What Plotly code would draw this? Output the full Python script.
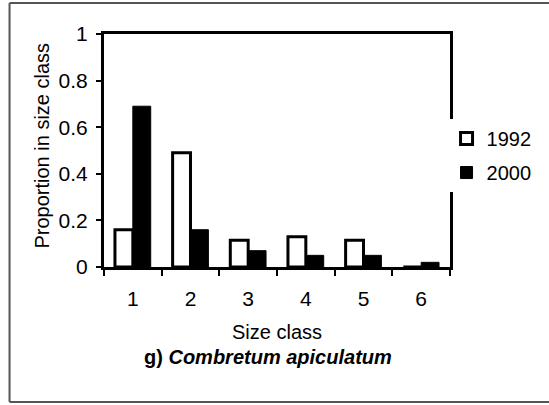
import plotly.graph_objects as go

# Size-class distribution of Combretum apiculatum in two survey years
size_classes = ["1", "2", "3", "4", "5", "6"]
prop_1992 = [0.16, 0.49, 0.115, 0.13, 0.115, 0.0]
prop_2000 = [0.69, 0.16, 0.07, 0.05, 0.05, 0.02]
y_ticks = [0, 0.2, 0.4, 0.6, 0.8, 1]
y_tick_text = ["0", "0.2", "0.4", "0.6", "0.8", "1"]

FONT = "Arial, 'Liberation Sans', sans-serif"

fig = go.Figure()
fig.add_trace(go.Bar(
    x=size_classes, y=prop_1992, name="1992", legendgroup="a",
    marker=dict(color="white", line=dict(color="black", width=3)),
))
fig.add_trace(go.Bar(
    x=size_classes, y=prop_2000, name="2000", legendgroup="b",
    marker=dict(color="black", line=dict(color="black", width=1)),
))

# Outer panel frame (left, top and bottom edges)
frame = dict(color="#555555", width=2)
x_left, x_right, y_bot, y_top = -0.273, 1.3, -0.579, 1.133
frame_shapes = [
    dict(type="line", xref="paper", yref="paper", x0=x_left, x1=x_left,
         y0=y_bot, y1=y_top, line=frame, layer="below"),
    dict(type="line", xref="paper", yref="paper", x0=x_left, x1=x_right,
         y0=y_top, y1=y_top, line=frame, layer="below"),
    dict(type="line", xref="paper", yref="paper", x0=x_left, x1=x_right,
         y0=y_bot, y1=y_bot, line=frame, layer="below"),
]

fig.update_layout(
    width=549, height=405,
    margin=dict(l=104, r=86, t=34, b=138),
    paper_bgcolor="white", plot_bgcolor="white",
    barmode="group", bargap=0.38, bargroupgap=0,
    font=dict(family=FONT, size=21, color="black"),
    showlegend=True,
    legend=dict(
        x=0.99, y=0.635, xanchor="left", yanchor="top",
        bgcolor="white", borderwidth=0,
        font=dict(size=20), itemwidth=30, tracegroupgap=5,
    ),
    xaxis=dict(
        type="category", showgrid=False, zeroline=False,
        showline=True, linecolor="black", linewidth=3, mirror=True,
        ticks="outside", tickson="boundaries", ticklen=6, tickwidth=2,
        tickcolor="black", ticklabelstandoff=11,
        tickfont=dict(size=21),
    ),
    yaxis=dict(
        range=[0, 1], showgrid=False, zeroline=False,
        showline=True, linecolor="black", linewidth=3, mirror=True,
        tickmode="array", tickvals=y_ticks, ticktext=y_tick_text,
        ticks="outside", ticklen=5, tickwidth=2, tickcolor="black",
        ticklabelstandoff=4, tickfont=dict(size=21),
    ),
    shapes=frame_shapes,
    annotations=[
        dict(text="Proportion in size class", xref="paper", yref="paper",
             x=-0.18, y=0.52, textangle=-90, showarrow=False,
             font=dict(size=20), xanchor="center", yanchor="middle"),
        dict(text="Size class", xref="paper", yref="paper",
             x=0.5, y=-0.279, showarrow=False,
             font=dict(size=20), xanchor="center", yanchor="middle"),
        dict(text="<b>g) <i>Combretum apiculatum</i></b>", xref="paper",
             yref="paper", x=0.475, y=-0.386, showarrow=False,
             font=dict(size=20), xanchor="center", yanchor="middle"),
    ],
)

fig.write_html("out.html")
